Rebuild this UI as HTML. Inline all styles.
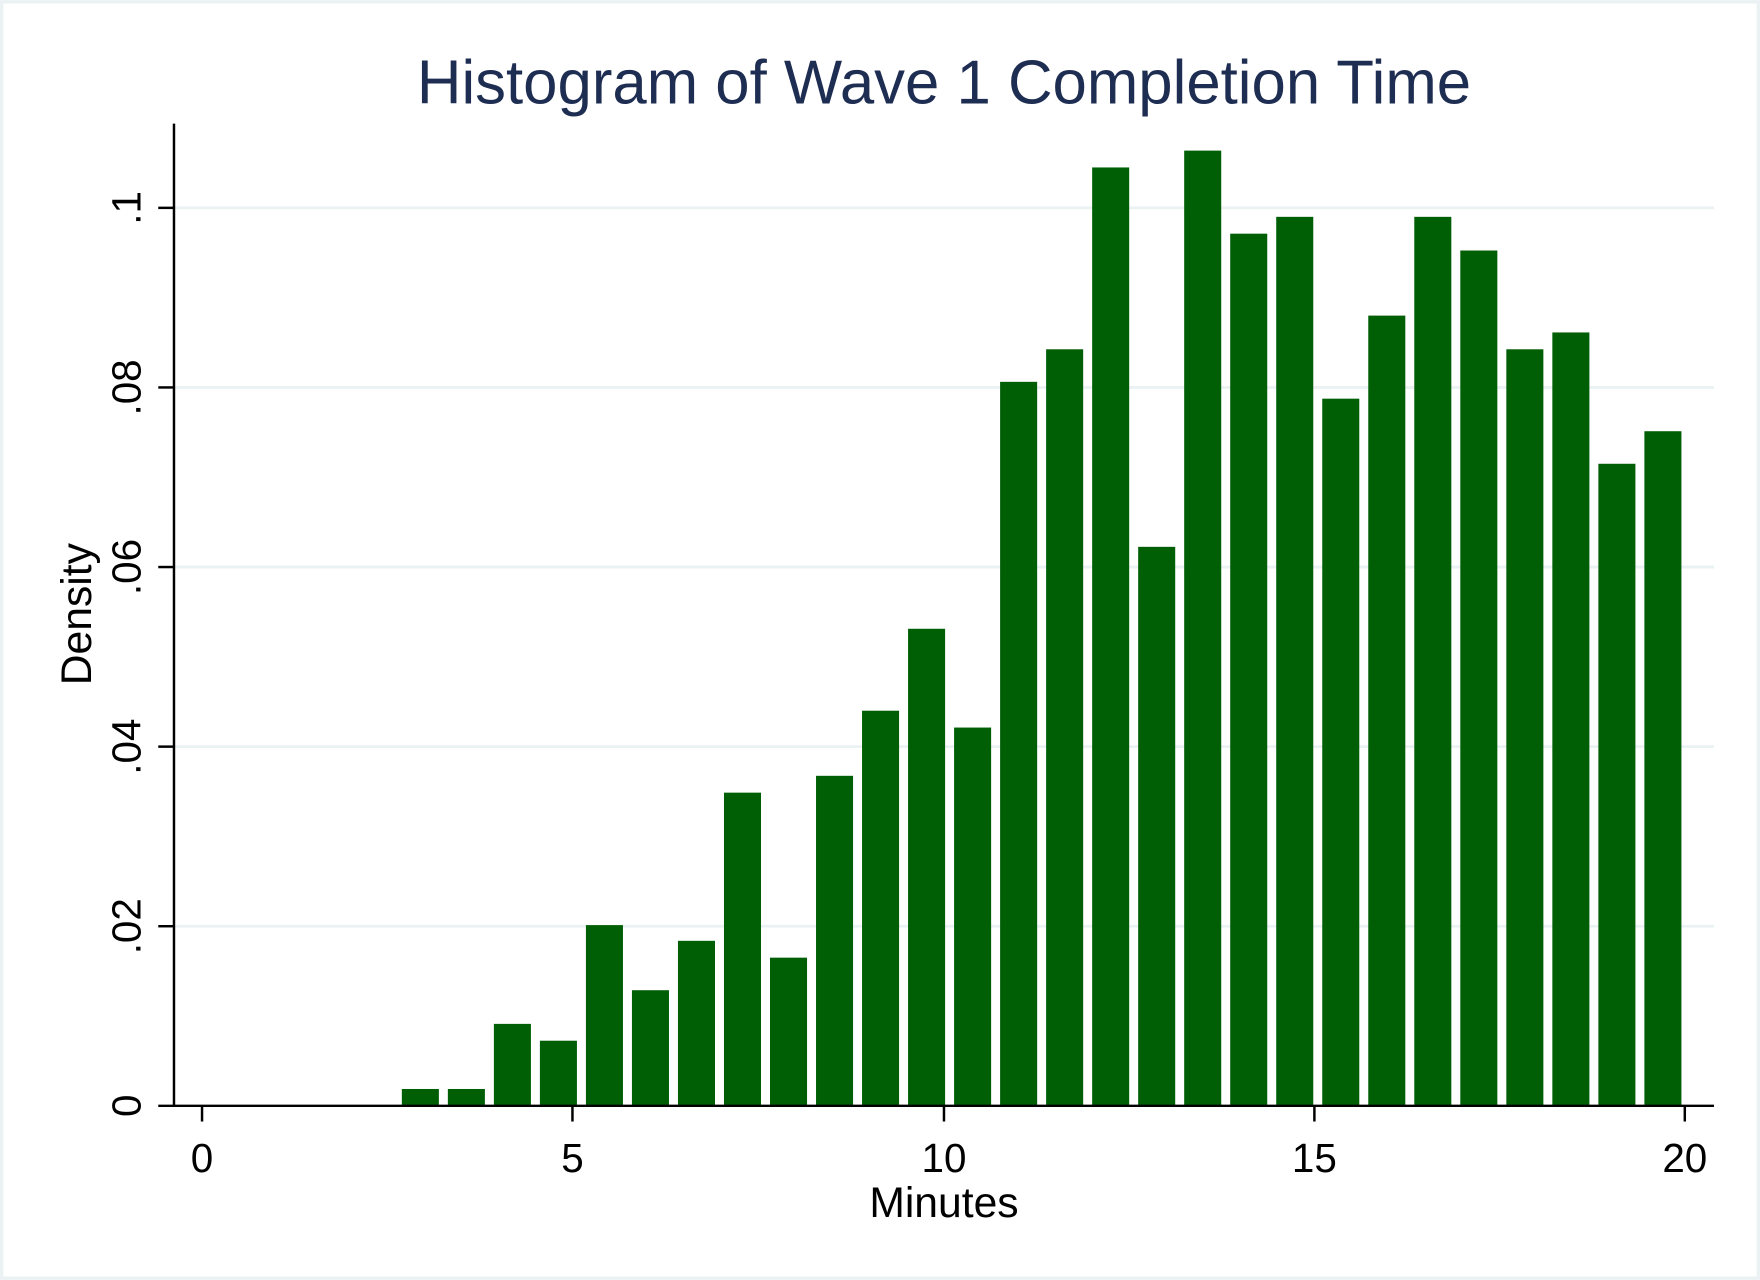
<!DOCTYPE html>
<html><head><style>html,body{margin:0;padding:0;background:#fff}svg{display:block}</style></head>
<body>
<svg width="1760" height="1280" viewBox="0 0 1568 1140" xmlns="http://www.w3.org/2000/svg" font-family="Liberation Sans, Arial, sans-serif">
<rect x="0" y="0" width="1568" height="1140" fill="#fff"/>
<rect x="1.5" y="1.5" width="1565" height="1137" fill="none" stroke="#EAF2F3" stroke-width="3"/>
<text x="841" y="92" font-size="55" text-anchor="middle" fill="#1E2D52">Histogram of Wave 1 Completion Time</text>
<g stroke="#EAF2F3" stroke-width="2.5">
<line x1="156" y1="825" x2="1527" y2="825"/><line x1="156" y1="665" x2="1527" y2="665"/>
<line x1="156" y1="505" x2="1527" y2="505"/><line x1="156" y1="345" x2="1527" y2="345"/>
<line x1="156" y1="185" x2="1527" y2="185"/>
</g>
<g fill="#005F05">
<rect x="358" y="970" width="33" height="15"/><rect x="399" y="970" width="33" height="15"/>
<rect x="440" y="912" width="33" height="73"/><rect x="481" y="927" width="33" height="58"/>
<rect x="522" y="824" width="33" height="161"/><rect x="563" y="882" width="33" height="103"/>
<rect x="604" y="838" width="33" height="147"/><rect x="645" y="706" width="33" height="279"/>
<rect x="686" y="853" width="33" height="132"/><rect x="727" y="691" width="33" height="294"/>
<rect x="768" y="633" width="33" height="352"/><rect x="809" y="560" width="33" height="425"/>
<rect x="850" y="648" width="33" height="337"/><rect x="891" y="340" width="33" height="645"/>
<rect x="932" y="311" width="33" height="674"/><rect x="973" y="149" width="33" height="836"/>
<rect x="1014" y="487" width="33" height="498"/><rect x="1055" y="134" width="33" height="851"/>
<rect x="1096" y="208" width="33" height="777"/><rect x="1137" y="193" width="33" height="792"/>
<rect x="1178" y="355" width="33" height="630"/><rect x="1219" y="281" width="33" height="704"/>
<rect x="1260" y="193" width="33" height="792"/><rect x="1301" y="223" width="33" height="762"/>
<rect x="1342" y="311" width="33" height="674"/><rect x="1383" y="296" width="33" height="689"/>
<rect x="1424" y="413" width="33" height="572"/><rect x="1465" y="384" width="33" height="601"/>
</g>
<g stroke="#000" stroke-width="2.2">
<line x1="155" y1="110" x2="155" y2="986"/>
<line x1="141" y1="985" x2="1527" y2="985"/>
<line x1="141" y1="825" x2="155" y2="825"/><line x1="141" y1="665" x2="155" y2="665"/>
<line x1="141" y1="505" x2="155" y2="505"/><line x1="141" y1="345" x2="155" y2="345"/>
<line x1="141" y1="185" x2="155" y2="185"/>
<line x1="180" y1="985" x2="180" y2="999"/><line x1="510" y1="985" x2="510" y2="999"/>
<line x1="841" y1="985" x2="841" y2="999"/><line x1="1171" y1="985" x2="1171" y2="999"/>
<line x1="1501" y1="985" x2="1501" y2="999"/>
</g>
<g font-size="36" fill="#000" text-anchor="middle">
<text x="180" y="1044">0</text><text x="510" y="1044">5</text><text x="841" y="1044">10</text>
<text x="1171" y="1044">15</text><text x="1501" y="1044">20</text>
<text transform="translate(125,985) rotate(-90)">0</text>
<text transform="translate(125,825) rotate(-90)">.02</text>
<text transform="translate(125,665) rotate(-90)">.04</text>
<text transform="translate(125,505) rotate(-90)">.06</text>
<text transform="translate(125,345) rotate(-90)">.08</text>
<text transform="translate(125,185) rotate(-90)">.1</text>
</g>
<g font-size="38" fill="#000" text-anchor="middle">
<text x="841" y="1084">Minutes</text>
<text transform="translate(81,547) rotate(-90)">Density</text>
</g>
</svg>
</body></html>
